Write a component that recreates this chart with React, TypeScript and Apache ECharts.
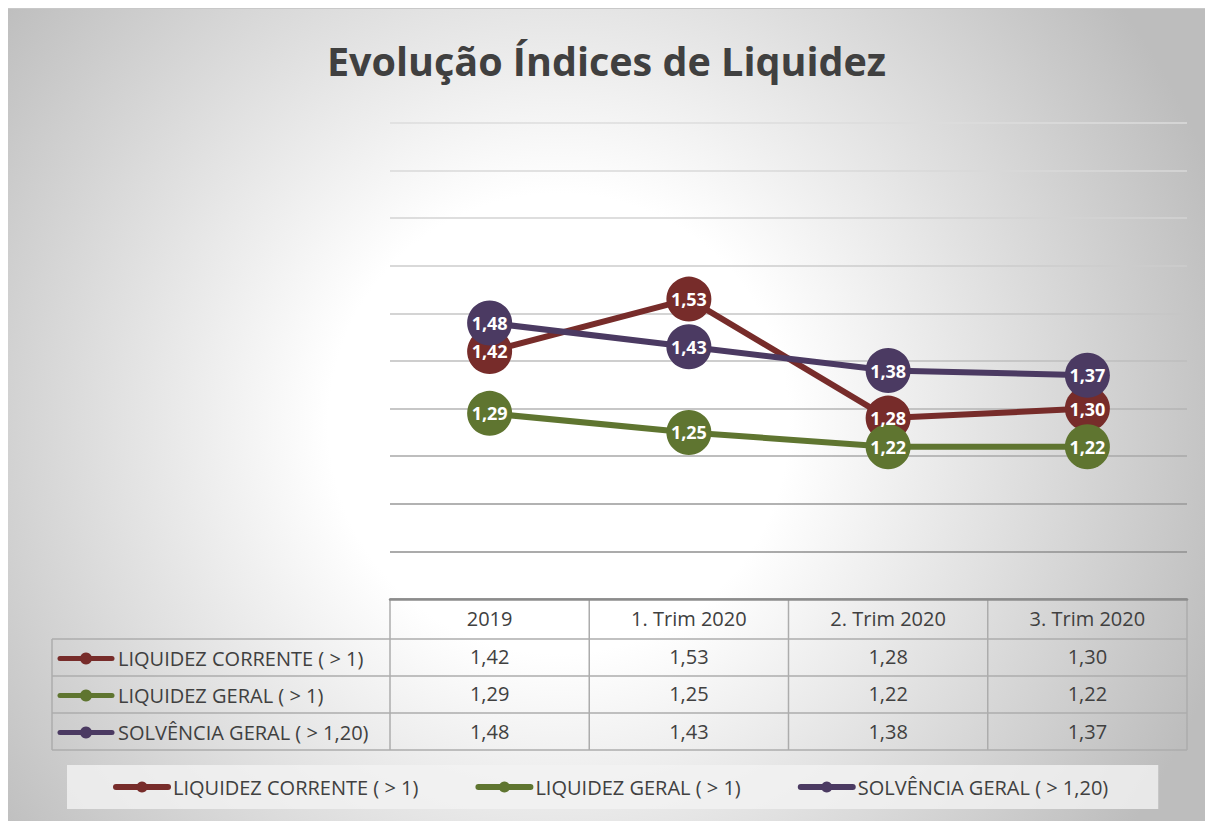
import React, { useEffect, useRef } from 'react';
import * as echarts from 'echarts';

const categories = ['2019', '1. Trim 2020', '2. Trim 2020', '3. Trim 2020'];
const seriesNames = ['LIQUIDEZ CORRENTE ( > 1)', 'LIQUIDEZ GERAL ( > 1)', 'SOLVÊNCIA GERAL ( > 1,20)'];
const liquidezCorrente = [1.42, 1.53, 1.28, 1.3];
const liquidezGeral = [1.29, 1.25, 1.22, 1.22];
const solvenciaGeral = [1.48, 1.43, 1.38, 1.37];
const yMin = 0.9;
const yMax = 1.9;
const yInterval = 0.1;

const seriesValues = [liquidezCorrente, liquidezGeral, solvenciaGeral];
const colors = ['#772c2a', '#5f7530', '#4b3a62'];
const FONT = "'Open Sans', 'Noto Sans', sans-serif";
const TEXT = '#404040';

const W = 1197;
const H = 813;
const GL = 382;
const GR = 18;
const GT = 114;
const GB = 223;
const plotW = W - GL - GR;
const colW = plotW / categories.length;
const axisY = H - GB;
const rowOffsets = [38, 75, 113];
const rowLines = [630, 667, 704, 741];
const tableLeft = 44;
const TFS = 20;

const fmt = (v: number) => v.toFixed(2).replace('.', ',');

export default function App() {
  const ref = useRef<HTMLDivElement>(null);
  useEffect(() => {
    if (!ref.current) return;
    const chart = echarts.init(ref.current, undefined, { renderer: 'svg' });
    const graphics: any[] = [];
    const border = { stroke: '#acacac', lineWidth: 1.5 };
    rowLines.forEach((y) => {
      graphics.push({ type: 'line', shape: { x1: tableLeft, y1: y, x2: GL + plotW, y2: y }, style: border, silent: true });
    });
    for (let i = 0; i <= categories.length; i++) {
      const x = GL + i * colW;
      graphics.push({ type: 'line', shape: { x1: x, y1: axisY, x2: x, y2: rowLines[rowLines.length - 1] }, style: border, silent: true });
    }
    graphics.push({ type: 'line', shape: { x1: tableLeft, y1: rowLines[0], x2: tableLeft, y2: rowLines[rowLines.length - 1] }, style: border, silent: true });
    seriesNames.forEach((name, k) => {
      const cy = (rowLines[k] + rowLines[k + 1]) / 2 + 1;
      graphics.push({ type: 'line', shape: { x1: 52, y1: cy, x2: 104, y2: cy }, style: { stroke: colors[k], lineWidth: 5, lineCap: 'round' }, silent: true });
      graphics.push({ type: 'circle', shape: { cx: 78, cy, r: 6 }, style: { fill: colors[k] }, silent: true });
      graphics.push({ type: 'text', x: 110, y: cy, style: { text: name, fill: TEXT, fontSize: TFS, fontFamily: FONT, align: 'left', verticalAlign: 'middle' }, silent: true });
    });

    const option: any = {
      animation: false,
      backgroundColor: 'transparent',
      title: {
        text: 'Evolução Índices de Liquidez',
        left: 'center',
        top: 27,
        textStyle: { fontSize: 39.5, fontWeight: 'bold', color: TEXT, fontFamily: FONT },
      },
      legend: {
        data: seriesNames,
        left: 59,
        top: 756,
        backgroundColor: 'rgba(242,242,242,0.8)',
        padding: [12, 50, 12, 46],
        itemWidth: 52,
        itemHeight: 14,
        itemGap: 57,
        lineStyle: { width: 6, cap: 'round' },
        textStyle: { fontSize: TFS, color: TEXT, fontFamily: FONT },
      },
      grid: { left: GL, right: GR, top: GT, bottom: GB, containLabel: false },
      xAxis: [
        {
          type: 'category',
          data: categories,
          position: 'bottom',
          axisLine: { show: true, lineStyle: { color: '#8c8c8c', width: 2.5 } },
          axisTick: { show: false },
          axisLabel: { margin: 9, fontSize: TFS, color: TEXT, fontFamily: FONT, interval: 0 },
        },
        ...seriesValues.map((vals, k) => ({
          type: 'category',
          data: categories,
          position: 'bottom',
          offset: rowOffsets[k],
          axisLine: { show: false },
          axisTick: { show: false },
          axisLabel: {
            margin: 9,
            fontSize: TFS,
            color: TEXT,
            fontFamily: FONT,
            interval: 0,
            formatter: (_v: string, i: number) => fmt(vals[i]),
          },
        })),
      ],
      yAxis: {
        type: 'value',
        min: yMin,
        max: yMax,
        interval: yInterval,
        axisLabel: { show: false },
        axisLine: { show: false },
        axisTick: { show: false },
        splitLine: {
          lineStyle: {
            width: 1.5,
            color: ['#8c8c8c', '#8f8f8f', '#999999', '#a8a8a8', '#b4b4b4', '#bebebe', '#c6c6c6', '#cdcdcd', '#d3d3d3', '#d8d8d8', '#dcdcdc'],
          },
        },
      },
      series: seriesValues.map((vals, k) => ({
        type: 'line',
        name: seriesNames[k],
        data: vals,
        xAxisIndex: 0,
        symbol: 'circle',
        symbolSize: 45,
        lineStyle: { width: 6, color: colors[k] },
        itemStyle: { color: colors[k] },
        label: {
          show: true,
          position: 'inside',
          color: '#ffffff',
          fontWeight: 'bold',
          fontSize: 18,
          fontFamily: FONT,
          formatter: (p: any) => fmt(p.value),
        },
      })),
      graphic: graphics,
    };
    chart.setOption(option);
    return () => chart.dispose();
  }, []);
  return (
    <div
      ref={ref}
      style={{
        width: W,
        height: H,
        background: 'radial-gradient(circle at 46% 51%, #ffffff 0px, #ffffff 230px, #bdbdbd 700px)',
        borderTop: '1px solid #c8c8c8',
      }}
    />
  );
}
